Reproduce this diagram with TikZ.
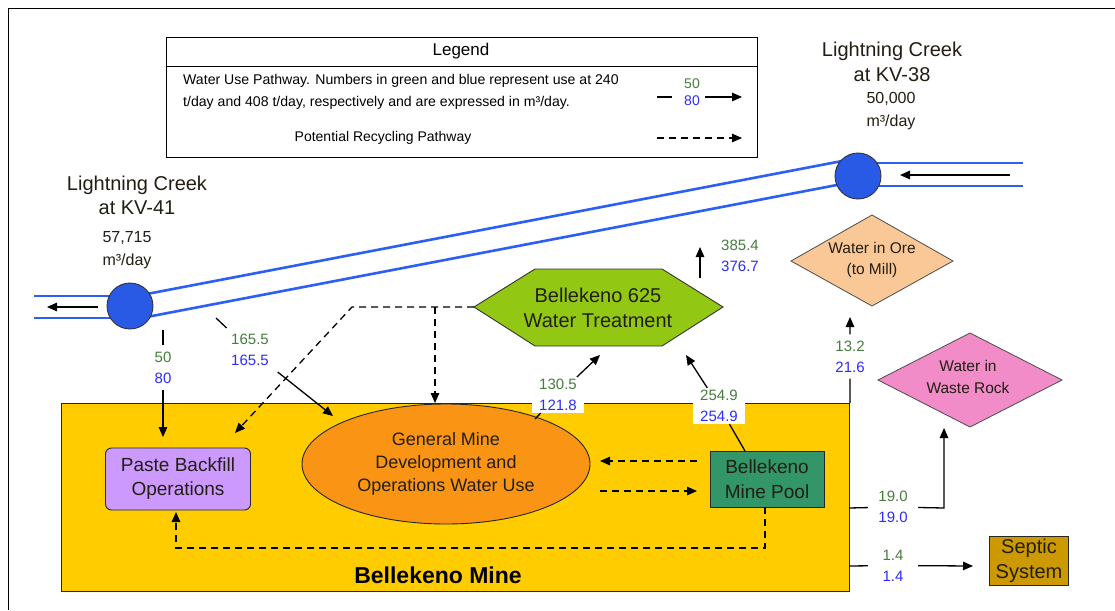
\documentclass[tikz,border=0pt]{standalone}
\usepackage{fontspec}
\setmainfont{Liberation Sans}
\usetikzlibrary{arrows.meta,shapes.geometric}
\definecolor{grn}{RGB}{70,125,60}
\definecolor{blu}{RGB}{45,45,250}
\definecolor{pipeblue}{RGB}{45,95,245}
\definecolor{circblue}{RGB}{40,90,230}
\definecolor{mineyel}{RGB}{255,204,0}
\definecolor{ellor}{RGB}{250,148,20}
\definecolor{pastecol}{RGB}{204,153,255}
\definecolor{poolcol}{RGB}{51,150,105}
\definecolor{hexcol}{RGB}{146,200,20}
\definecolor{orecol}{RGB}{250,200,150}
\definecolor{wastecol}{RGB}{242,140,200}
\definecolor{septcol}{RGB}{204,153,0}
\definecolor{txtdark}{RGB}{35,30,20}
\newcommand\myfs[2]{\fontsize{#1}{#2}\selectfont}
\begin{document}
\begin{tikzpicture}[x=1pt,y=-1pt,
  txt/.style={inner sep=0pt, align=center, text=txtdark},
  flowlbl/.style={inner xsep=9pt, inner ysep=6pt, minimum width=50pt, align=center, font=\myfs{15}{21}},
  wlbl/.style={flowlbl, fill=white, inner xsep=7pt, inner ysep=2pt, minimum width=0pt},
  arr/.style={-{Triangle[length=10pt,width=8.5pt]}, line width=1.3pt},
  darr/.style={arr, dash pattern=on 7pt off 5pt},
  plain/.style={line width=1.3pt},
  pipe/.style={pipeblue, line width=2.6pt},
  box/.style={draw=black!85, line width=0.9pt, align=center, text=txtdark},
]
\useasboundingbox (0,0) rectangle (1115,610);
\fill[white] (0,0) rectangle (1115,610);
\draw[line width=1pt] (8,610) -- (8,9) -- (1115,9);

% ---------- Legend ----------
\node[draw, line width=1pt, minimum width=591, minimum height=120, anchor=north west, inner sep=0] (legend) at (166,37) {};
\coordinate (lgsep) at (0,66);
\draw[line width=1pt] (legend.west |- lgsep) -- (legend.east |- lgsep);
\node[font=\myfs{17}{20}, inner sep=0] (lgtitle) at (461,51) {Legend};
\node[anchor=west, align=left, font=\myfs{14.1}{22}, inner sep=0] (lgtext) at (183,91.5) {Water Use Pathway. Numbers in green and blue represent use at 240\\t/day and 408 t/day, respectively and are expressed in m³/day.};
\node[align=center, font=\myfs{14}{17}, inner sep=0] (lg50) at (692,92) {\textcolor{grn}{50}\\\textcolor{blu}{80}};
\coordinate (lgA) at (657,97);
\coordinate (lgB) at (672,97);
\coordinate (lgC) at (705,97);
\coordinate (lgD) at (742,97);
\draw[plain] (lgA) -- (lgB);
\draw[arr] (lgC) -- (lgD);
\node[font=\myfs{14}{16}, inner sep=0] (lgrec) at (383,138) {Potential Recycling Pathway};
\coordinate (lgE) at (657,138);
\coordinate (lgF) at (742,138);
\draw[darr] (lgE) -- (lgF);

% ---------- Creek ----------
\coordinate (kv38c) at (858,176);
\coordinate (kv41c) at (130,306);
\coordinate (r1) at (1023,163);
\coordinate (r2) at (1023,186);
\coordinate (l1) at (34,296);
\coordinate (l2) at (34,318);
\draw[pipe] (kv38c |- r1) -- (r1);
\draw[pipe] (kv38c |- r2) -- (r2);
\draw[pipe] (l1) -- (kv41c |- l1);
\draw[pipe] (l2) -- (kv41c |- l2);
\coordinate (d1a) at (140,295.3);
\coordinate (d1b) at (850,159.5);
\coordinate (d2a) at (140,318.3);
\coordinate (d2b) at (850,182.5);
\draw[pipe] (d1a) -- (d1b);
\draw[pipe] (d2a) -- (d2b);
\node[circle, draw=black!80, line width=0.9pt, fill=circblue, minimum size=46, inner sep=0] (KV38) at (kv38c) {};
\node[circle, draw=black!80, line width=0.9pt, fill=circblue, minimum size=46, inner sep=0] (KV41) at (kv41c) {};
\coordinate (ra) at (1010,175);
\coordinate (rb) at (900,175);
\draw[arr] (ra) -- (rb);
\coordinate (la) at (98,307);
\coordinate (lb) at (47,307);
\draw[arr] (la) -- (lb);

\node[txt, font=\myfs{20}{25}] (kv38lbl) at (892,62) {Lightning Creek\\at KV-38};
\node[txt, font=\myfs{16}{23}] (kv38flow) at (891,111.5) {50,000\\m³/day};
\node[txt, font=\myfs{20}{24}] (kv41lbl) at (137,195) {Lightning Creek\\at KV-41};
\node[txt, font=\myfs{16}{23}] (kv41flow) at (127,250) {57,715\\m³/day};

% ---------- Mine ----------
\node[draw=black!85, line width=0.9pt, fill=mineyel, minimum width=788, minimum height=188, anchor=north west, inner sep=0] (mine) at (61,403) {};
\node[font=\bfseries\myfs{23}{25}, inner sep=0] (minelbl) at (438,575) {Bellekeno Mine};
\node[box, fill=pastecol, rounded corners=6, minimum width=145, minimum height=62, inner sep=0, font=\myfs{19}{24}] (paste) at (178,479) {Paste Backfill\\Operations};
\node[box, ellipse, fill=ellor, minimum width=288, minimum height=120, inner sep=0, font=\myfs{18}{23}] (ell) at (446,464) {General Mine\\Development and\\Operations Water Use};
\node[box, fill=poolcol, minimum width=114, minimum height=56, inner sep=0, font=\myfs{19}{25}] (pool) at (767,479) {Bellekeno\\Mine Pool};
\node[box, fill=septcol, minimum width=79, minimum height=49, inner sep=0, font=\myfs{20}{25}] (septic) at (1029,561) {Septic\\System};

% ---------- Treatment, ore, waste ----------
\draw[fill=hexcol, draw=black!80, line width=0.9pt] (474,307) -- (535,269) -- (662,269) -- (723,307) -- (662,346) -- (535,346) -- cycle;
\node[txt, font=\myfs{20}{25}] (hex) at (598,307.5) {Bellekeno 625\\Water Treatment};
\draw[fill=orecol, draw=black!70, line width=0.8pt] (791,261) -- (872,215) -- (953,261) -- (872,306) -- cycle;
\node[txt, font=\myfs{15.5}{21}] (ore) at (872,260) {Water in Ore\\(to Mill)};
\draw[fill=wastecol, draw=black!70, line width=0.8pt] (878,380) -- (970,333) -- (1062,380) -- (970,427) -- cycle;
\node[txt, font=\myfs{15.5}{22}] (waste) at (968,377) {Water in\\Waste Rock};

% ---------- Flows ----------
\coordinate (f50a) at (163,330);
\node[flowlbl] (l50) at (163,367.5) {\textcolor{grn}{50}\\\textcolor{blu}{80}};
\coordinate (f50b) at (163,437);
\draw[arr] (f50a) -- (l50) -- (f50b);

\coordinate (f165a) at (216,318);
\node[flowlbl] (l165) at (250,350) {\textcolor{grn}{165.5}\\\textcolor{blu}{165.5}};
\coordinate (f165b) at (333,416);
\draw[arr] (f165a) -- (l165) -- (f165b);

\coordinate (f130a) at (535,419);
\node[wlbl] (l130) at (558,395) {\textcolor{grn}{130.5}\\\textcolor{blu}{121.8}};
\coordinate (f130b) at (600,355);
\draw[arr] (f130a) -- (l130) -- (f130b);

\coordinate (f254a) at (745,451);
\node[wlbl] (l254) at (719,406) {\textcolor{grn}{254.9}\\\textcolor{blu}{254.9}};
\coordinate (f254b) at (686,355);
\draw[arr] (f254a) -- (l254) -- (f254b);

\coordinate (f385a) at (700,278);
\coordinate (f385b) at (700,247);
\draw[arr] (f385a) -- (f385b);
\node[flowlbl] (l385) at (740,255.5) {\textcolor{grn}{385.4}\\\textcolor{blu}{376.7}};

\node[flowlbl] (l13) at (850,356.5) {\textcolor{grn}{13.2}\\\textcolor{blu}{21.6}};
\coordinate (f13b) at (850,317);
\draw[arr] (mine.north east) -- (l13) -- (f13b);

\coordinate (f19a) at (849,508);
\node[flowlbl] (l19) at (893,507) {\textcolor{grn}{19.0}\\\textcolor{blu}{19.0}};
\coordinate (f19c) at (944,508);
\coordinate (f19b) at (944,428);
\draw[arr] (f19a) -- (l19) -- (f19c) -- (f19b);

\coordinate (f14a) at (849,566);
\node[flowlbl] (l14) at (893,565.5) {\textcolor{grn}{1.4}\\\textcolor{blu}{1.4}};
\coordinate (f14b) at (973,566);
\draw[arr] (f14a) -- (l14) -- (f14b);

% ---------- Recycling (dashed) ----------
\coordinate (hexW) at (474,307);
\coordinate (dk) at (352,307);
\coordinate (dpaste) at (235,433);
\draw[darr] (hexW) -- (dk) -- (dpaste);
\coordinate (dv) at (435,307);
\coordinate (dell) at (435,403);
\draw[darr] (dv) -- (dell);
\coordinate (pw1) at (697,461);
\coordinate (ew1) at (600,461);
\coordinate (ew2) at (600,491);
\coordinate (pw2) at (697,491);
\draw[darr] (pw1) -- (ew1);
\draw[darr] (ew2) -- (pw2);
\coordinate (pb) at (765,507);
\coordinate (pc) at (765,548);
\coordinate (pd) at (176,548);
\coordinate (pe) at (176,512);
\draw[darr] (pb) -- (pc) -- (pd) -- (pe);
\end{tikzpicture}
\end{document}
